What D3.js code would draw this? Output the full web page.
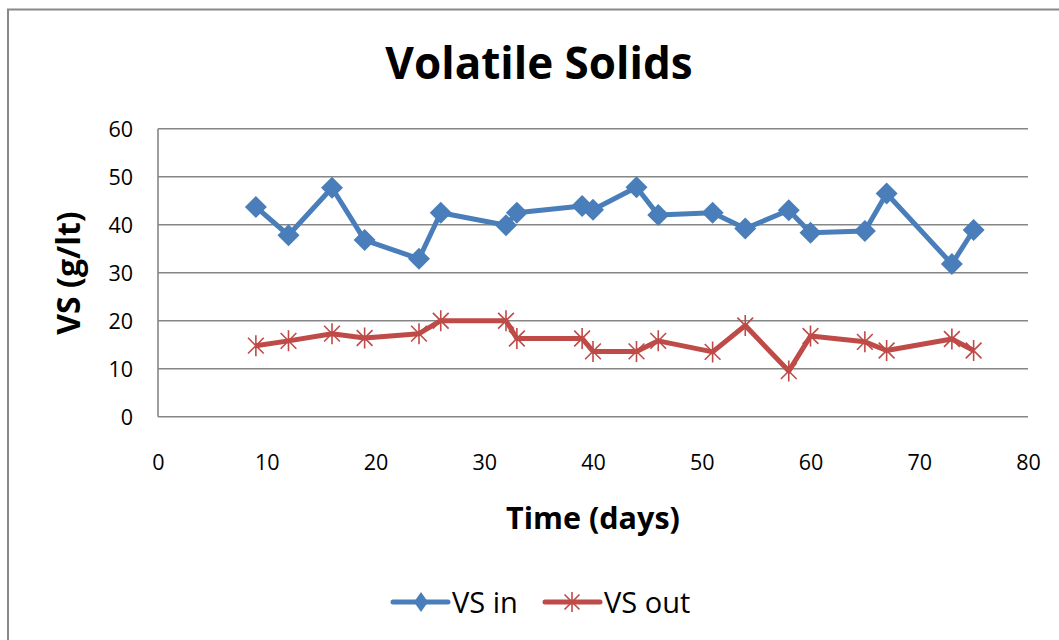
<!DOCTYPE html>
<html>
<head>
<meta charset="utf-8">
<script src="https://cdn.jsdelivr.net/npm/d3@7"></script>
<style>
  html, body { margin: 0; padding: 0; background: #fff; }
  svg { display: block; font-family: "Open Sans", "DejaVu Sans", sans-serif; }
</style>
</head>
<body>
<svg id="chart" width="1059" height="640"></svg>
<script>
const daysIn = [9, 12, 16, 19, 24, 26, 32, 33, 39, 40, 44, 46, 51, 54, 58, 60, 65, 67, 73, 75];
const vsIn   = [43.7, 37.8, 47.7, 36.8, 32.9, 42.5, 39.9, 42.5, 43.9, 43.1, 47.8, 42.0, 42.5, 39.2, 43.0, 38.3, 38.7, 46.5, 31.8, 38.9];
const daysOut = [9, 12, 16, 19, 24, 26, 32, 33, 39, 40, 44, 46, 51, 54, 58, 60, 65, 67, 73, 75];
const vsOut   = [14.8, 15.8, 17.3, 16.4, 17.3, 20.0, 20.0, 16.3, 16.3, 13.6, 13.6, 15.8, 13.5, 19.0, 9.5, 16.8, 15.6, 13.8, 16.2, 13.8];
const xTicks = [0, 10, 20, 30, 40, 50, 60, 70, 80];
const yTicks = [0, 10, 20, 30, 40, 50, 60];
const seriesNames = ["VS in", "VS out"];
const titleText = "Volatile Solids";
const xTitle = "Time (days)";
const yTitle = "VS (g/lt)";

const blue = "#4A7EBB", red = "#BE4B48", grid = "#868686";
const svg = d3.select("#chart");

// outer chart border
svg.append("rect").attr("x", 8).attr("y", 9.5).attr("width", 1200).attr("height", 800)
  .attr("fill", "none").attr("stroke", "#888").attr("stroke-width", 2);

const x = d3.scaleLinear().domain([0, 80]).range([158, 1028]);
const y = d3.scaleLinear().domain([0, 60]).range([416.7, 128.7]);

// gridlines
svg.append("g").selectAll("line").data(yTicks).join("line")
  .attr("x1", x(0)).attr("x2", x(80))
  .attr("y1", d => y(d)).attr("y2", d => y(d))
  .attr("stroke", grid).attr("stroke-width", 1.6);
// y axis line
svg.append("line").attr("x1", x(0)).attr("x2", x(0)).attr("y1", y(0)).attr("y2", y(60))
  .attr("stroke", grid).attr("stroke-width", 1.6);

// y tick labels
const yAxis = d3.axisLeft(y).tickValues(yTicks).tickSize(0).tickPadding(0);
const gy = svg.append("g").attr("transform", `translate(133,0)`).call(yAxis);
gy.select(".domain").remove();
gy.selectAll("text").attr("font-size", 21.5).attr("fill", "#000")
  .attr("font-family", "Open Sans").attr("dy", "0.36em");

// x tick labels
const xAxis = d3.axisBottom(x).tickValues(xTicks).tickSize(0).tickPadding(0);
const gx = svg.append("g").attr("transform", `translate(0,470)`).call(xAxis);
gx.select(".domain").remove();
gx.selectAll("text").attr("font-size", 21.5).attr("fill", "#000")
  .attr("font-family", "Open Sans").attr("dy", 0);

// titles
svg.append("text").attr("x", 539).attr("y", 79).attr("text-anchor", "middle")
  .attr("font-size", 44).attr("font-weight", "bold").text(titleText);
svg.append("text").attr("x", 593).attr("y", 529).attr("text-anchor", "middle")
  .attr("font-size", 30.5).attr("font-weight", "bold").text(xTitle);
svg.append("text").attr("transform", `translate(80,273) rotate(-90)`).attr("text-anchor", "middle")
  .attr("font-size", 32).attr("font-weight", "bold").text(yTitle);

const line = d3.line().x(d => x(d[0])).y(d => y(d[1]));
const inData = daysIn.map((d, i) => [d, vsIn[i]]);
const outData = daysOut.map((d, i) => [d, vsOut[i]]);

svg.append("path").datum(inData).attr("d", line).attr("fill", "none")
  .attr("stroke", blue).attr("stroke-width", 5).attr("stroke-linejoin", "round");
svg.append("path").datum(outData).attr("d", line).attr("fill", "none")
  .attr("stroke", red).attr("stroke-width", 5).attr("stroke-linejoin", "round");

const diamond = r => `M0,${-r}L${r},0L0,${r}L${-r},0Z`;
const star = r => { const k = r * 0.75; return `M0,${-r}L0,${r}M${-k},${-k}L${k},${k}M${-k},${k}L${k},${-k}`; };

svg.append("g").selectAll("path").data(inData).join("path")
  .attr("transform", d => `translate(${x(d[0])},${y(d[1])})`)
  .attr("d", diamond(11)).attr("fill", blue);
svg.append("g").selectAll("path").data(outData).join("path")
  .attr("transform", d => `translate(${x(d[0])},${y(d[1])})`)
  .attr("d", star(10.5)).attr("fill", "none").attr("stroke", red).attr("stroke-width", 1.6);

// legend
const lg = svg.append("g");
lg.append("line").attr("x1", 393).attr("x2", 448).attr("y1", 602).attr("y2", 602)
  .attr("stroke", blue).attr("stroke-width", 5).attr("stroke-linecap", "round");
lg.append("path").attr("transform", "translate(421,602)").attr("d", "M0,-10L7,0L0,10L-7,0Z").attr("fill", blue);
lg.append("text").attr("x", 452).attr("y", 613).attr("font-size", 29).text(seriesNames[0]);
lg.append("line").attr("x1", 545).attr("x2", 600).attr("y1", 602).attr("y2", 602)
  .attr("stroke", red).attr("stroke-width", 5).attr("stroke-linecap", "round");
lg.append("path").attr("transform", "translate(572,602)").attr("d", star(10))
  .attr("fill", "none").attr("stroke", red).attr("stroke-width", 1.6);
lg.append("text").attr("x", 604).attr("y", 613).attr("font-size", 29).text(seriesNames[1]);
</script>
</body>
</html>
